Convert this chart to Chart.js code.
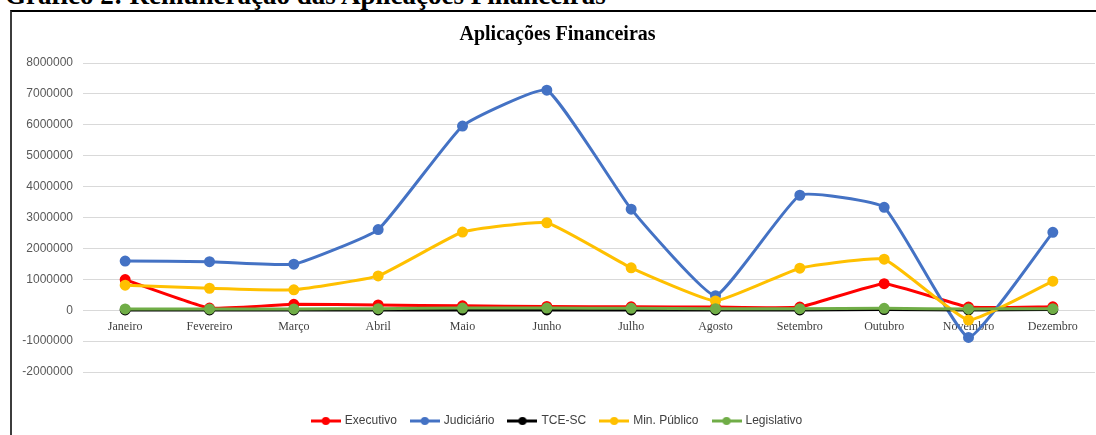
<!DOCTYPE html>
<html>
<head>
<meta charset="utf-8">
<script src="https://cdn.jsdelivr.net/npm/chart.js@4/dist/chart.umd.min.js"></script>
<style>
  html, body { margin: 0; padding: 0; background: #fff; overflow: hidden; width: 1096px; height: 435px; }
  #heading {
    position: absolute; left: 5px; top: -18px; margin: 0;
    font: bold 27px "Liberation Serif", serif; line-height: 27px; color: #000; white-space: nowrap;
  }
  #box {
    position: absolute; left: 10px; top: 10px; width: 1200px; height: 500px;
    border-left: 2px solid #3c3c3c; border-top: 2px solid #000;
  }
  #wrap { position: absolute; left: 12px; top: 12px; width: 1098px; height: 423px; }
</style>
</head>
<body>
<div id="heading">Gráfico 2: Remuneração das Aplicações Financeiras</div>
<div id="box"></div>
<div id="wrap"><canvas id="chart"></canvas></div>
<script>
const months = ['Janeiro', 'Fevereiro', 'Março', 'Abril', 'Maio', 'Junho', 'Julho', 'Agosto', 'Setembro', 'Outubro', 'Novembro', 'Dezembro'];

const executivo = [990000, 70000, 190000, 170000, 140000, 120000, 110000, 100000, 100000, 860000, 100000, 110000];
const judiciario = [1590000, 1570000, 1490000, 2610000, 5960000, 7120000, 3270000, 470000, 3720000, 3330000, -880000, 2520000];
const tceSc = [10000, 10000, 10000, 10000, 10000, 10000, 10000, 10000, 10000, 20000, 10000, 20000];
const minPublico = [810000, 710000, 660000, 1110000, 2530000, 2830000, 1370000, 300000, 1360000, 1650000, -320000, 940000];
const legislativo = [40000, 40000, 40000, 50000, 70000, 70000, 60000, 50000, 50000, 60000, 40000, 50000];

const yTicks = [-2000000, -1000000, 0, 1000000, 2000000, 3000000, 4000000, 5000000, 6000000, 7000000, 8000000];

const seriesNames = ['Executivo', 'Judiciário', 'TCE-SC', 'Min. Público', 'Legislativo'];
const seriesColors = ['#ff0000', '#4472c4', '#000000', '#ffc000', '#70ad47'];
const seriesData = [executivo, judiciario, tceSc, minPublico, legislativo];

// line + dot sample for the legend
function legendMark(color) {
    const c = document.createElement('canvas');
    c.width = 30;
    c.height = 10;
    const g = c.getContext('2d');
    g.strokeStyle = color;
    g.lineWidth = 3;
    g.beginPath();
    g.moveTo(0, 5);
    g.lineTo(30, 5);
    g.stroke();
    g.fillStyle = color;
    g.beginPath();
    g.arc(15, 5, 4, 0, Math.PI * 2);
    g.fill();
    return c;
}

const datasets = seriesNames.map((name, i) => ({
    label: name,
    data: seriesData[i],
    borderColor: seriesColors[i],
    backgroundColor: seriesColors[i],
    borderWidth: 3,
    pointRadius: 4,
    pointHoverRadius: 4,
    tension: 0.12,
    fill: false,
    order: seriesNames.length - i
}));

new Chart(document.getElementById('chart'), {
    type: 'line',
    data: { labels: months, datasets: datasets },
    options: {
        responsive: true,
        maintainAspectRatio: false,
        animation: false,
        layout: { padding: { left: 8, right: 15, top: 0, bottom: -2 } },
        plugins: {
            title: {
                display: true,
                text: 'Aplicações Financeiras',
                color: '#000',
                font: { family: 'Liberation Serif', size: 20, weight: 'bold' },
                padding: { top: 11, bottom: 16 }
            },
            legend: {
                position: 'bottom',
                title: {
                    display: true,
                    text: ' ',
                    font: { size: 10 },
                    padding: { top: 16, bottom: 0 }
                },
                labels: {
                    usePointStyle: true,
                    pointStyleWidth: 26,
                    padding: 15,
                    color: '#404040',
                    font: { family: 'Liberation Sans', size: 12 },
                    generateLabels: (chart) => chart.data.datasets.map((ds, i) => ({
                        text: ds.label,
                        pointStyle: legendMark(ds.borderColor),
                        fillStyle: ds.borderColor,
                        strokeStyle: ds.borderColor,
                        fontColor: '#404040',
                        lineWidth: 0,
                        hidden: false,
                        datasetIndex: i
                    }))
                }
            },
            tooltip: { enabled: false }
        },
        scales: {
            x: {
                type: 'category',
                position: { y: 0 },
                offset: true,
                grid: { display: false, drawTicks: false },
                border: { display: false },
                ticks: {
                    color: '#404040',
                    font: { family: 'Liberation Serif', size: 12 },
                    padding: 9,
                    maxRotation: 0,
                    autoSkip: false
                }
            },
            y: {
                min: -2000000,
                max: 8000000,
                afterBuildTicks: (axis) => { axis.ticks = yTicks.map(v => ({ value: v })); },
                afterFit: (axis) => { axis.width = 63; },
                grid: { color: '#d9d9d9', drawTicks: false },
                border: { display: false },
                ticks: {
                    color: '#595959',
                    font: { family: 'Liberation Sans', size: 12 },
                    padding: 10,
                    callback: (v) => String(v)
                }
            }
        }
    }
});
</script>
</body>
</html>
